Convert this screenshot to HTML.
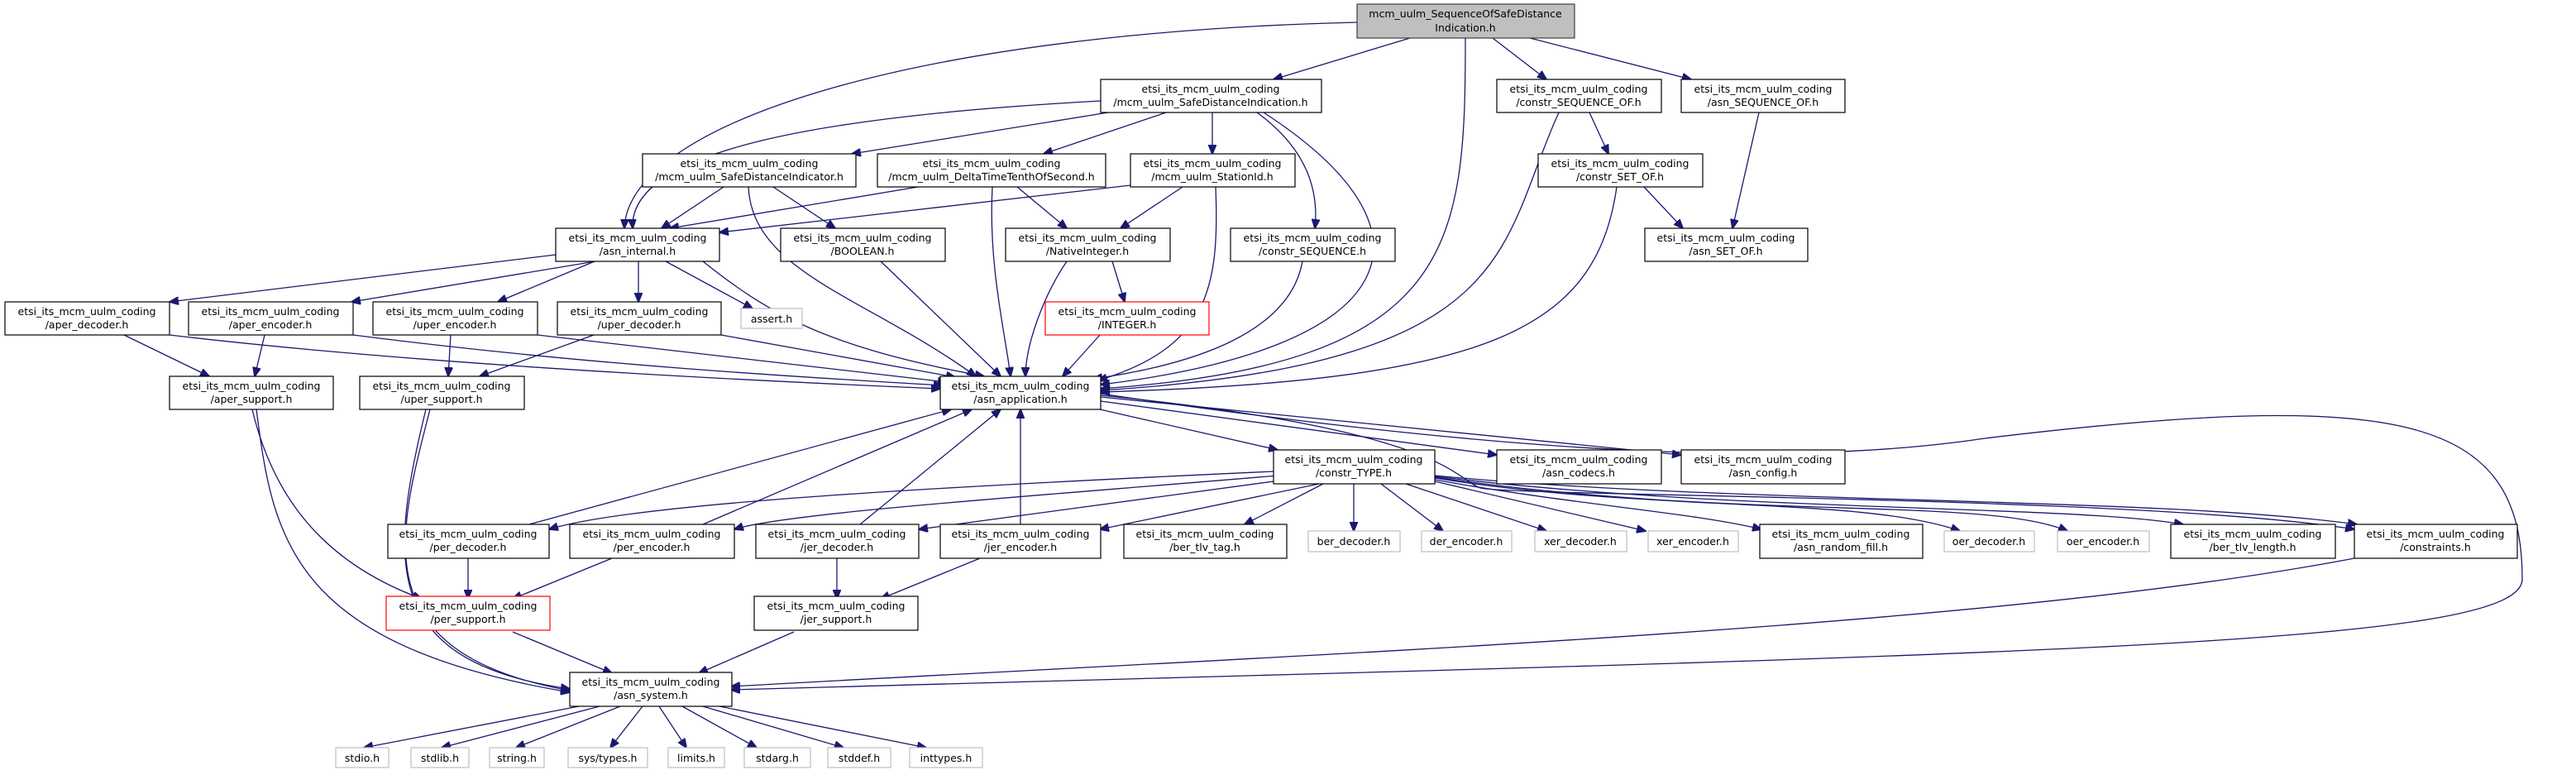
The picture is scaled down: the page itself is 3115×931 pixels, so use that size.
<!DOCTYPE html>
<html><head><meta charset="utf-8"><style>
html,body{margin:0;padding:0;background:#fff;}
svg{display:block;}
text{font-family:"DejaVu Sans","Liberation Sans",sans-serif;font-size:12.5px;fill:#000;text-anchor:middle;}
.n{fill:#fff;stroke:#000;stroke-width:1.2;}
.g{fill:#fff;stroke:#bfbfbf;stroke-width:1.2;}
.r{fill:#fff;stroke:#ff0000;stroke-width:1.2;}
.e{fill:none;stroke:#191970;stroke-width:1.3;}
</style></head><body>
<svg width="3115" height="931" viewBox="0 0 3115 931" xmlns="http://www.w3.org/2000/svg">
<defs><marker id="a" markerWidth="12" markerHeight="10" refX="11" refY="5" orient="auto" markerUnits="userSpaceOnUse"><path d="M0,0 L12,5 L0,10 z" fill="#191970" stroke="#191970"/></marker></defs>
<g class="e" marker-end="url(#a)">
<path d="M1641,27 C1100,40 760,150 755,276"/>
<path d="M1705,46 L1540,96"/>
<path d="M1772,46 C1772,300 1760,440 1331,470"/>
<path d="M1805,46 L1870,96"/>
<path d="M1850,46 L2045,96"/>
<path d="M1331,122 C1000,140 760,180 765,276"/>
<path d="M1340,136 L1030,186"/>
<path d="M1410,136 L1262,186"/>
<path d="M1466,136 L1466,186"/>
<path d="M1520,136 C1580,180 1595,230 1590,276"/>
<path d="M1528,136 C1750,280 1700,420 1331,465"/>
<path d="M875,226 L800,276"/>
<path d="M935,226 L1010,276"/>
<path d="M905,226 C910,330 1050,360 1180,455"/>
<path d="M1110,226 L810,276"/>
<path d="M1230,226 L1290,276"/>
<path d="M1200,226 C1195,320 1215,400 1222,455"/>
<path d="M1367,224 L870,281"/>
<path d="M1430,226 L1355,276"/>
<path d="M1470,226 C1475,350 1460,420 1328,460"/>
<path d="M1885,136 C1810,300 1840,440 1331,472"/>
<path d="M1922,136 L1945,186"/>
<path d="M2127,136 L2095,276"/>
<path d="M1955,226 C1930,400 1800,460 1331,474"/>
<path d="M1988,226 L2035,276"/>
<path d="M1575,316 C1560,400 1450,440 1322,458"/>
<path d="M1065,316 L1210,455"/>
<path d="M1290,316 C1260,360 1240,420 1240,455"/>
<path d="M1345,316 L1360,365"/>
<path d="M1330,405 L1285,455"/>
<path d="M672,308 L205,365"/>
<path d="M720,316 L425,365"/>
<path d="M719,316 L602,365"/>
<path d="M772,316 L772,365"/>
<path d="M805,316 L910,373"/>
<path d="M850,316 C930,380 1000,420 1190,455"/>
<path d="M150,405 L253,455"/>
<path d="M205,405 C500,440 900,460 1137,470"/>
<path d="M320,405 L308,455"/>
<path d="M427,405 C700,440 950,455 1140,466"/>
<path d="M545,405 L542,455"/>
<path d="M650,405 L1145,462"/>
<path d="M718,405 L580,455"/>
<path d="M872,405 L1155,456"/>
<path d="M305,495 C330,600 390,680 510,724"/>
<path d="M310,495 C330,650 350,780 689,837"/>
<path d="M520,495 C480,650 440,790 689,835"/>
<path d="M515,495 C470,680 460,800 689,833"/>
<path d="M1330,495 L1545,544"/>
<path d="M1331,485 L1810,550"/>
<path d="M1331,480 L2033,550"/>
<path d="M1331,478 C1750,520 1760,580 1790,590 C1830,600 2600,600 2847,640"/>
<path d="M1331,476 C1900,560 2200,560 2400,530 C2900,470 3050,500 3050,700 C3050,780 2500,790 884,834"/>
<path d="M2847,675 C2400,760 1600,790 884,830"/>
<path d="M640,634 L1150,495"/>
<path d="M850,634 L1175,495"/>
<path d="M1040,634 L1210,495"/>
<path d="M1234,634 L1234,495"/>
<path d="M1540,570 C1100,590 760,610 664,640"/>
<path d="M1545,575 C1250,600 950,620 888,640"/>
<path d="M1555,580 L1111,640"/>
<path d="M1595,585 L1330,640"/>
<path d="M1600,585 L1505,634"/>
<path d="M1637,585 L1637,642"/>
<path d="M1670,585 L1745,642"/>
<path d="M1700,585 L1870,642"/>
<path d="M1735,582 L1990,642"/>
<path d="M1735,580 C1900,610 2050,620 2130,640"/>
<path d="M1735,578 C2000,620 2250,600 2370,642"/>
<path d="M1735,577 C2100,630 2400,600 2500,642"/>
<path d="M1735,576 C2100,620 2500,610 2640,634"/>
<path d="M1735,575 C2100,610 2600,600 2850,634"/>
<path d="M566,675 L566,724"/>
<path d="M740,675 L620,724"/>
<path d="M1012,675 L1012,724"/>
<path d="M1185,675 L1065,724"/>
<path d="M620,764 L740,814"/>
<path d="M960,764 L845,814"/>
<path d="M700,854 L440,904"/>
<path d="M725,854 L534,904"/>
<path d="M750,854 L624,904"/>
<path d="M777,854 L738,904"/>
<path d="M797,854 L830,904"/>
<path d="M825,854 L915,904"/>
<path d="M850,854 L1020,904"/>
<path d="M870,854 L1120,904"/>
</g>
<rect x="1641" y="5" width="263" height="41" fill="#bfbfbf" stroke="#404040" stroke-width="1.2"/>
<text x="1772" y="21">mcm_uulm_SequenceOfSafeDistance</text><text x="1772" y="38">Indication.h</text>
<g id="nodes">
<rect class="n" x="1331" y="96" width="267" height="40"/><text x="1464" y="112">etsi_its_mcm_uulm_coding</text><text x="1464" y="128">/mcm_uulm_SafeDistanceIndication.h</text>
<rect class="n" x="1810" y="96" width="199" height="40"/><text x="1909" y="112">etsi_its_mcm_uulm_coding</text><text x="1909" y="128">/constr_SEQUENCE_OF.h</text>
<rect class="n" x="2033" y="96" width="198" height="40"/><text x="2132" y="112">etsi_its_mcm_uulm_coding</text><text x="2132" y="128">/asn_SEQUENCE_OF.h</text>
<rect class="n" x="777" y="186" width="258" height="40"/><text x="906" y="202">etsi_its_mcm_uulm_coding</text><text x="906" y="218">/mcm_uulm_SafeDistanceIndicator.h</text>
<rect class="n" x="1061" y="186" width="276" height="40"/><text x="1199" y="202">etsi_its_mcm_uulm_coding</text><text x="1199" y="218">/mcm_uulm_DeltaTimeTenthOfSecond.h</text>
<rect class="n" x="1367" y="186" width="199" height="40"/><text x="1466" y="202">etsi_its_mcm_uulm_coding</text><text x="1466" y="218">/mcm_uulm_StationId.h</text>
<rect class="n" x="1860" y="186" width="199" height="40"/><text x="1959" y="202">etsi_its_mcm_uulm_coding</text><text x="1959" y="218">/constr_SET_OF.h</text>
<rect class="n" x="672" y="276" width="198" height="40"/><text x="771" y="292">etsi_its_mcm_uulm_coding</text><text x="771" y="308">/asn_internal.h</text>
<rect class="n" x="944" y="276" width="199" height="40"/><text x="1043" y="292">etsi_its_mcm_uulm_coding</text><text x="1043" y="308">/BOOLEAN.h</text>
<rect class="n" x="1216" y="276" width="199" height="40"/><text x="1315" y="292">etsi_its_mcm_uulm_coding</text><text x="1315" y="308">/NativeInteger.h</text>
<rect class="n" x="1488" y="276" width="199" height="40"/><text x="1587" y="292">etsi_its_mcm_uulm_coding</text><text x="1587" y="308">/constr_SEQUENCE.h</text>
<rect class="n" x="1989" y="276" width="197" height="40"/><text x="2087" y="292">etsi_its_mcm_uulm_coding</text><text x="2087" y="308">/asn_SET_OF.h</text>
<rect class="n" x="6" y="365" width="199" height="40"/><text x="105" y="381">etsi_its_mcm_uulm_coding</text><text x="105" y="397">/aper_decoder.h</text>
<rect class="n" x="228" y="365" width="199" height="40"/><text x="327" y="381">etsi_its_mcm_uulm_coding</text><text x="327" y="397">/aper_encoder.h</text>
<rect class="n" x="451" y="365" width="199" height="40"/><text x="550" y="381">etsi_its_mcm_uulm_coding</text><text x="550" y="397">/uper_encoder.h</text>
<rect class="n" x="674" y="365" width="198" height="40"/><text x="773" y="381">etsi_its_mcm_uulm_coding</text><text x="773" y="397">/uper_decoder.h</text>
<rect class="g" x="896" y="373" width="74" height="24"/><text x="933" y="390">assert.h</text>
<rect class="r" x="1264" y="365" width="198" height="40"/><text x="1363" y="381">etsi_its_mcm_uulm_coding</text><text x="1363" y="397">/INTEGER.h</text>
<rect class="n" x="205" y="455" width="198" height="40"/><text x="304" y="471">etsi_its_mcm_uulm_coding</text><text x="304" y="487">/aper_support.h</text>
<rect class="n" x="435" y="455" width="199" height="40"/><text x="534" y="471">etsi_its_mcm_uulm_coding</text><text x="534" y="487">/uper_support.h</text>
<rect class="n" x="1137" y="455" width="194" height="40"/><text x="1234" y="471">etsi_its_mcm_uulm_coding</text><text x="1234" y="487">/asn_application.h</text>
<rect class="n" x="1540" y="544" width="195" height="41"/><text x="1637" y="560">etsi_its_mcm_uulm_coding</text><text x="1637" y="576">/constr_TYPE.h</text>
<rect class="n" x="1810" y="544" width="199" height="41"/><text x="1909" y="560">etsi_its_mcm_uulm_coding</text><text x="1909" y="576">/asn_codecs.h</text>
<rect class="n" x="2033" y="544" width="198" height="41"/><text x="2132" y="560">etsi_its_mcm_uulm_coding</text><text x="2132" y="576">/asn_config.h</text>
<rect class="n" x="469" y="634" width="195" height="41"/><text x="566" y="650">etsi_its_mcm_uulm_coding</text><text x="566" y="666">/per_decoder.h</text>
<rect class="n" x="689" y="634" width="199" height="41"/><text x="788" y="650">etsi_its_mcm_uulm_coding</text><text x="788" y="666">/per_encoder.h</text>
<rect class="n" x="914" y="634" width="197" height="41"/><text x="1012" y="650">etsi_its_mcm_uulm_coding</text><text x="1012" y="666">/jer_decoder.h</text>
<rect class="n" x="1137" y="634" width="194" height="41"/><text x="1234" y="650">etsi_its_mcm_uulm_coding</text><text x="1234" y="666">/jer_encoder.h</text>
<rect class="n" x="1359" y="634" width="197" height="41"/><text x="1457" y="650">etsi_its_mcm_uulm_coding</text><text x="1457" y="666">/ber_tlv_tag.h</text>
<rect class="g" x="1582" y="642" width="111" height="25"/><text x="1637" y="659">ber_decoder.h</text>
<rect class="g" x="1719" y="642" width="109" height="25"/><text x="1773" y="659">der_encoder.h</text>
<rect class="g" x="1856" y="642" width="111" height="25"/><text x="1911" y="659">xer_decoder.h</text>
<rect class="g" x="1993" y="642" width="109" height="25"/><text x="2047" y="659">xer_encoder.h</text>
<rect class="n" x="2128" y="634" width="197" height="41"/><text x="2226" y="650">etsi_its_mcm_uulm_coding</text><text x="2226" y="666">/asn_random_fill.h</text>
<rect class="g" x="2351" y="642" width="109" height="25"/><text x="2405" y="659">oer_decoder.h</text>
<rect class="g" x="2488" y="642" width="111" height="25"/><text x="2543" y="659">oer_encoder.h</text>
<rect class="n" x="2625" y="634" width="199" height="41"/><text x="2724" y="650">etsi_its_mcm_uulm_coding</text><text x="2724" y="666">/ber_tlv_length.h</text>
<rect class="n" x="2847" y="634" width="197" height="41"/><text x="2945" y="650">etsi_its_mcm_uulm_coding</text><text x="2945" y="666">/constraints.h</text>
<rect class="r" x="467" y="721" width="198" height="41"/><text x="566" y="737">etsi_its_mcm_uulm_coding</text><text x="566" y="753">/per_support.h</text>
<rect class="n" x="912" y="721" width="198" height="41"/><text x="1011" y="737">etsi_its_mcm_uulm_coding</text><text x="1011" y="753">/jer_support.h</text>
<rect class="n" x="689" y="813" width="196" height="41"/><text x="787" y="829">etsi_its_mcm_uulm_coding</text><text x="787" y="845">/asn_system.h</text>
<rect class="g" x="406" y="904" width="64" height="24"/><text x="438" y="921">stdio.h</text>
<rect class="g" x="497" y="904" width="70" height="24"/><text x="532" y="921">stdlib.h</text>
<rect class="g" x="592" y="904" width="66" height="24"/><text x="625" y="921">string.h</text>
<rect class="g" x="687" y="904" width="96" height="24"/><text x="735" y="921">sys/types.h</text>
<rect class="g" x="808" y="904" width="68" height="24"/><text x="842" y="921">limits.h</text>
<rect class="g" x="900" y="904" width="80" height="24"/><text x="940" y="921">stdarg.h</text>
<rect class="g" x="1001" y="904" width="76" height="24"/><text x="1039" y="921">stddef.h</text>
<rect class="g" x="1100" y="904" width="88" height="24"/><text x="1144" y="921">inttypes.h</text>
</g>
</svg>
</body></html>
